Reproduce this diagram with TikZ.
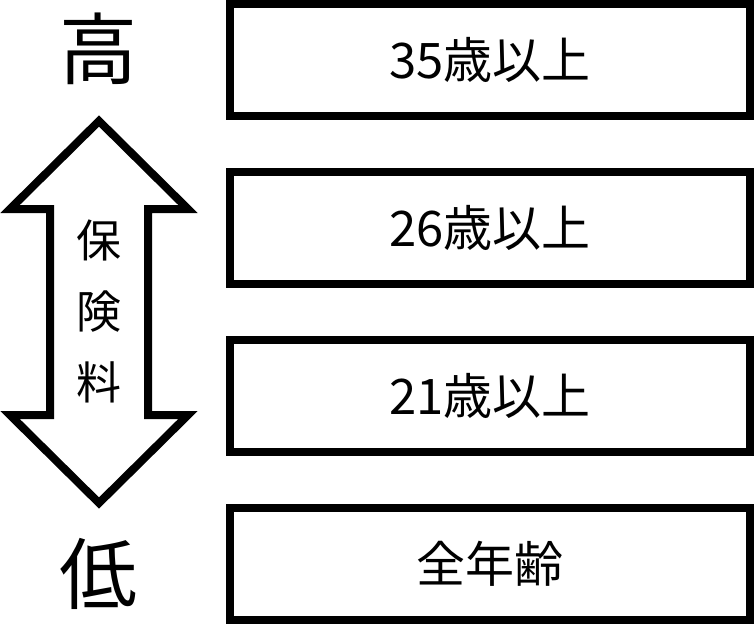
\documentclass[tikz,border=0pt]{standalone}
\usepackage{fontspec}
\newfontfamily\jpfont{Noto Sans CJK JP}
\usetikzlibrary{positioning}

\begin{document}
\begin{tikzpicture}[
    x=1pt,
    y=-1pt,
    agebox/.style={
        draw,
        line width=8pt,
        minimum width=520pt,
        minimum height=112pt,
        inner sep=0pt,
        font=\jpfont\fontsize{49}{49}\selectfont,
    },
    rank/.style={
        inner sep=0pt,
        font=\jpfont\fontsize{78}{78}\selectfont,
    },
    premium/.style={
        draw,
        line width=8pt,
        line join=miter,
    },
    premiumtext/.style={
        align=center,
        inner sep=0pt,
        font=\jpfont\fontsize{45}{71}\selectfont,
    }
]
    \useasboundingbox (0,0) rectangle (754,624);

    % Age brackets
    \node[agebox] (age35) at (490,60) {35歳以上};
    \node[agebox, below=48pt of age35] (age26) {26歳以上};
    \node[agebox, below=48pt of age26] (age21) {21歳以上};
    \node[agebox, below=48pt of age21] (ageall) {全年齢};

    % High / low
    \node[rank] (high) at (98,49) {高};
    \node[rank] (low) at (98,574) {低};

    % Double arrow
    \draw[premium] (99,121) -- (188,209) -- (148,209) -- (148,415)
        -- (188,415) -- (99,503) -- (10,415) -- (50,415)
        -- (50,209) -- (10,209) -- cycle;
    \node[premiumtext] (fee) at (99,311) {保\\険\\料};
\end{tikzpicture}
\end{document}
